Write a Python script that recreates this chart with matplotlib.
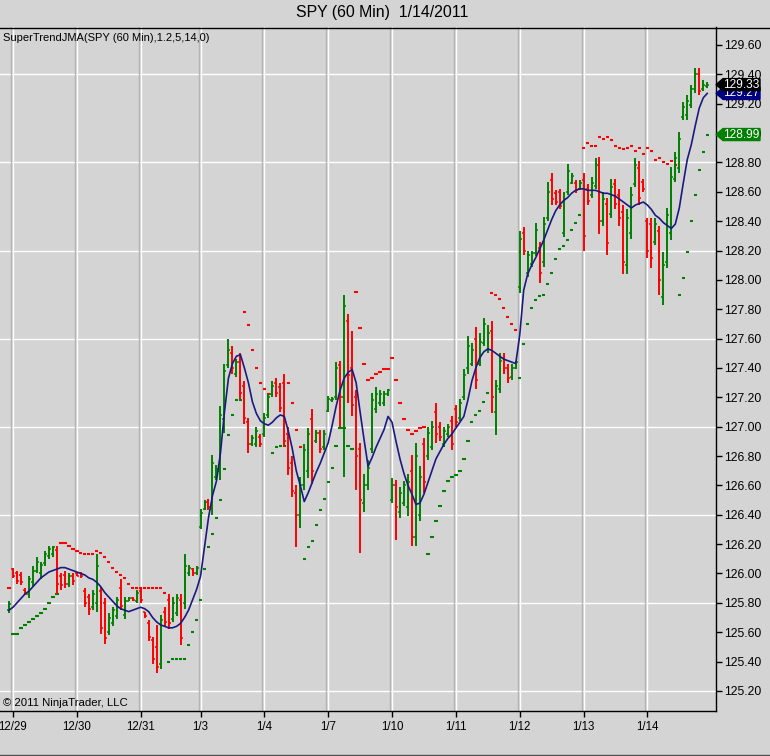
import matplotlib
matplotlib.use('Agg')
import matplotlib.pyplot as plt
from matplotlib.patches import Polygon
from matplotlib.lines import Line2D
import numpy as np

plt.rcParams['font.family'] = ['Liberation Sans', 'DejaVu Sans']

# ---------------- data ----------------
bar_open = [
    125.75, 126.03, 126.00, 125.99, 125.89, 125.86, 125.94, 126.02, 126.00, 126.07,
    126.12, 126.13, 126.16, 125.98, 125.99, 125.93, 125.98, 126.00, 126.00, 125.88,
    125.84, 125.77, 125.80, 125.88, 125.80, 125.60, 125.66, 125.71, 125.90, 125.72,
    125.81, 125.83, 125.81, 125.88, 125.74, 125.66, 125.55, 125.50, 125.38, 125.74,
    125.82, 125.69, 125.73, 125.82, 125.80, 126.00, 126.03, 126.00, 126.32, 126.44,
    126.49, 126.44, 126.66, 126.70, 127.05, 127.42, 127.50, 127.36, 127.44, 127.28,
    127.03, 126.88, 126.88, 126.93, 126.95, 127.08, 127.22, 127.30, 127.27, 127.30,
    126.95, 126.75, 126.55, 126.40, 126.60, 126.70, 127.05, 126.90, 126.96, 126.86,
    127.11, 127.18, 127.20, 127.42, 127.20, 127.72, 127.40, 127.20, 126.85, 126.48,
    126.60, 126.85, 127.12, 127.16, 127.16, 127.22, 126.50, 126.60, 126.42, 126.48,
    126.45, 126.70, 126.25, 126.40, 126.88, 126.80, 126.86, 127.10, 127.00, 126.88,
    126.95, 127.04, 127.12, 127.06, 127.20, 127.40, 127.43, 127.60, 127.43, 127.57,
    127.52, 127.65, 127.10, 127.26, 127.47, 127.40, 127.34, 127.40, 127.95, 128.32,
    128.05, 128.11, 128.18, 128.22, 128.12, 128.42, 128.68, 128.59, 128.60, 128.32,
    128.60, 128.66, 128.66, 128.62, 128.68, 128.62, 128.58, 128.64, 128.78, 128.40,
    128.52, 128.45, 128.65, 128.58, 128.46, 128.10, 128.32, 128.65, 128.76, 128.67,
    128.40, 128.38, 128.26, 128.33, 127.88, 128.12, 128.32, 128.69, 128.76, 129.11,
    129.12, 129.19, 129.30, 129.40, 129.30, 129.32]
bar_high = [
    125.81, 126.04, 126.02, 126.01, 125.90, 125.98, 126.05, 126.11, 126.08, 126.15,
    126.19, 126.19, 126.19, 126.00, 126.02, 126.00, 126.00, 126.00, 126.01, 125.90,
    125.86, 125.89, 126.13, 125.91, 125.83, 125.73, 125.77, 125.84, 125.96, 125.84,
    125.84, 125.84, 125.89, 125.90, 125.74, 125.68, 125.57, 125.65, 125.72, 125.77,
    125.86, 125.84, 125.86, 125.86, 126.13, 126.06, 126.04, 126.05, 126.44, 126.50,
    126.51, 126.81, 126.74, 127.14, 127.43, 127.60, 127.55, 127.46, 127.50, 127.31,
    127.06, 126.94, 127.00, 126.95, 127.09, 127.22, 127.31, 127.33, 127.30, 127.36,
    127.00, 126.80, 126.60, 126.66, 126.88, 126.99, 127.12, 126.98, 126.98, 126.98,
    127.21, 127.20, 127.44, 127.45, 127.90, 127.77, 127.65, 127.25, 126.89, 126.68,
    126.77, 127.23, 127.27, 127.25, 127.24, 127.26, 126.65, 126.64, 126.59, 126.63,
    126.68, 126.81, 126.89, 126.73, 126.92, 127.00, 127.04, 127.16, 127.03, 127.00,
    127.02, 127.07, 127.15, 127.19, 127.39, 127.62, 127.57, 127.68, 127.64, 127.74,
    127.69, 127.72, 127.32, 127.50, 127.50, 127.43, 127.43, 127.45, 128.33, 128.36,
    128.20, 128.20, 128.39, 128.26, 128.43, 128.67, 128.73, 128.61, 128.62, 128.60,
    128.79, 128.73, 128.68, 128.68, 128.73, 128.65, 128.70, 128.83, 128.84, 128.60,
    128.56, 128.69, 128.69, 128.62, 128.51, 128.48, 128.63, 128.83, 128.81, 128.69,
    128.42, 128.42, 128.42, 128.37, 128.19, 128.49, 128.77, 128.87, 129.01, 129.21,
    129.26, 129.33, 129.44, 129.44, 129.36, 129.35]
bar_low = [
    125.73, 125.97, 125.93, 125.92, 125.85, 125.83, 125.91, 126.00, 125.96, 126.05,
    126.10, 126.11, 125.86, 125.89, 125.90, 125.91, 125.92, 125.98, 125.97, 125.77,
    125.72, 125.75, 125.74, 125.59, 125.52, 125.58, 125.64, 125.69, 125.75, 125.69,
    125.81, 125.81, 125.80, 125.80, 125.70, 125.54, 125.38, 125.32, 125.35, 125.64,
    125.62, 125.67, 125.71, 125.51, 125.76, 125.98, 125.98, 125.99, 126.30, 126.43,
    126.43, 126.40, 126.64, 126.64, 126.96, 127.40, 127.36, 127.34, 127.19, 127.02,
    126.82, 126.87, 126.86, 126.86, 126.93, 127.06, 127.20, 127.20, 127.10, 126.86,
    126.67, 126.52, 126.18, 126.31, 126.57, 126.65, 126.61, 126.89, 126.82, 126.84,
    127.10, 127.17, 127.18, 127.00, 126.66, 127.16, 127.07, 126.57, 126.14, 126.42,
    126.57, 126.82, 127.09, 127.14, 127.14, 127.21, 126.48, 126.23, 126.38, 126.46,
    126.39, 126.19, 126.19, 126.36, 126.55, 126.77, 126.84, 126.89, 126.90, 126.86,
    126.93, 126.84, 127.00, 127.04, 127.18, 127.36, 127.41, 127.26, 127.41, 127.55,
    127.50, 127.09, 126.94, 127.23, 127.36, 127.30, 127.32, 127.39, 127.91, 128.17,
    128.02, 128.09, 128.16, 127.98, 128.09, 128.40, 128.51, 128.51, 128.48, 128.29,
    128.58, 128.65, 128.59, 128.61, 128.20, 128.51, 128.56, 128.62, 128.31, 128.37,
    128.17, 128.42, 128.48, 128.37, 128.04, 128.04, 128.28, 128.63, 128.51, 128.60,
    128.15, 128.08, 128.24, 127.90, 127.83, 128.08, 128.27, 128.67, 128.73, 129.09,
    129.09, 129.17, 129.27, 129.26, 129.29, 129.31]
bar_close = [
    125.79, 125.98, 125.95, 125.94, 125.86, 125.96, 126.02, 126.08, 126.06, 126.13,
    126.17, 126.18, 125.93, 125.92, 125.93, 125.98, 125.95, 125.98, 125.98, 125.80,
    125.76, 125.86, 126.05, 125.63, 125.56, 125.70, 125.75, 125.82, 125.78, 125.81,
    125.83, 125.82, 125.87, 125.82, 125.71, 125.57, 125.42, 125.36, 125.68, 125.67,
    125.66, 125.80, 125.83, 125.56, 126.05, 126.04, 126.00, 126.04, 126.41, 126.48,
    126.45, 126.75, 126.71, 127.08, 127.38, 127.52, 127.40, 127.44, 127.23, 127.06,
    126.88, 126.92, 126.97, 126.88, 127.06, 127.20, 127.28, 127.23, 127.13, 126.90,
    126.72, 126.56, 126.40, 126.60, 126.84, 126.95, 126.70, 126.96, 126.85, 126.95,
    127.19, 127.19, 127.40, 127.20, 127.82, 127.35, 127.15, 126.80, 126.50, 126.60,
    126.72, 127.18, 127.22, 127.22, 127.22, 127.25, 126.60, 126.45, 126.55, 126.60,
    126.62, 126.25, 126.80, 126.66, 126.62, 126.96, 127.00, 126.95, 126.93, 126.97,
    127.00, 126.88, 127.03, 127.16, 127.35, 127.55, 127.52, 127.32, 127.58, 127.70,
    127.64, 127.20, 127.28, 127.45, 127.40, 127.33, 127.40, 127.44, 128.28, 128.20,
    128.17, 128.18, 128.34, 128.05, 128.38, 128.60, 128.55, 128.53, 128.50, 128.55,
    128.74, 128.71, 128.61, 128.66, 128.30, 128.54, 128.66, 128.78, 128.40, 128.55,
    128.25, 128.63, 128.52, 128.42, 128.12, 128.42, 128.58, 128.78, 128.56, 128.62,
    128.20, 128.15, 128.38, 128.00, 128.10, 128.44, 128.70, 128.83, 128.96, 129.18,
    129.22, 129.30, 129.40, 129.29, 129.33, 129.33]

# SuperTrend level per bar and its direction (u = up / green, d = down / red)
st_value = [
    125.90, 125.59, 125.59, 125.63, 125.65, 125.67, 125.69, 125.71, 125.73, 125.76,
    125.80, 125.84, 125.86, 126.21, 126.21, 126.19, 126.17, 126.15, 126.14, 126.13,
    126.13, 126.13, 126.15, 126.14, 126.11, 126.08, 126.04, 126.01, 125.99, 125.97,
    125.93, 125.90, 125.90, 125.90, 125.90, 125.90, 125.90, 125.90, 125.90, 125.87,
    125.40, 125.42, 125.42, 125.42, 125.42, 125.51, 125.60, 125.68, 125.82, 126.03,
    126.18, 126.27, 126.38, 126.50, 126.71, 126.94, 127.08, 127.18, 127.18, 127.78,
    127.69, 127.52, 127.40, 127.30, 127.26, 127.22, 126.82, 126.86, 126.87, 126.87,
    127.30, 127.16, 126.98, 126.86, 126.10, 126.18, 126.22, 126.33, 126.43, 126.51,
    126.62, 126.72, 126.87, 126.99, 126.99, 126.87, 126.85, 127.92, 127.67, 127.43,
    127.32, 127.33, 127.36, 127.37, 127.39, 127.39, 127.47, 127.32, 127.16, 127.05,
    126.98, 126.95, 126.97, 126.99, 127.00, 126.13, 126.25, 126.36, 126.46, 126.56,
    126.63, 126.66, 126.67, 126.70, 126.78, 126.90, 127.03, 127.08, 127.11, 127.17,
    127.23, 127.91, 127.90, 127.87, 127.81, 127.75, 127.70, 127.66, 127.33, 127.56,
    127.70, 127.81, 127.86, 127.89, 127.90, 127.97, 128.05, 128.14, 128.21, 128.23,
    128.27, 128.34, 128.39, 128.44, 128.90, 128.93, 128.91, 128.91, 128.97, 128.96,
    128.97, 128.95, 128.91, 128.90, 128.89, 128.90, 128.91, 128.88, 128.90, 128.86,
    128.90, 128.88, 128.82, 128.83, 128.80, 128.79, 128.81, 128.78, 127.90, 128.01,
    128.19, 128.40, 128.58, 128.75, 128.87, 128.99]
st_dir = ("duuuuuuuuu uuuddddddd dddddddddd dddddddddd uuuuuuuuuu "
          "uuuuuuuuud dddddduuuu dddduuuuuu uuuuuuuddd dddddddddd "
          "ddddduuuuu uuuuuuuuuu uddddddduu uuuuuuuuuu uuuudddddd "
          "dddddddddd dddddddduu uuuuuu").replace(" ", "")

# JMA smoothing line
jma = [
    125.75, 125.77, 125.80, 125.83, 125.86, 125.88, 125.91, 125.94, 125.97, 125.99,
    126.01, 126.02, 126.03, 126.04, 126.04, 126.03, 126.02, 126.01, 126.00, 125.99,
    125.97, 125.96, 125.94, 125.91, 125.87, 125.84, 125.81, 125.78, 125.76, 125.75,
    125.74, 125.75, 125.76, 125.77, 125.76, 125.74, 125.70, 125.67, 125.65, 125.64,
    125.63, 125.63, 125.64, 125.66, 125.70, 125.75, 125.82, 125.89, 125.98, 126.18,
    126.38, 126.53, 126.63, 126.82, 127.10, 127.33, 127.43, 127.48, 127.49, 127.40,
    127.30, 127.17, 127.09, 127.04, 127.02, 127.01, 127.03, 127.06, 127.08, 127.07,
    126.97, 126.85, 126.70, 126.60, 126.49, 126.55, 126.62, 126.69, 126.75, 126.82,
    126.89, 127.01, 127.14, 127.25, 127.33, 127.37, 127.39, 127.30, 127.10, 126.91,
    126.73, 126.79, 126.86, 126.92, 126.98, 127.07, 127.03, 126.90, 126.78, 126.68,
    126.60, 126.54, 126.47, 126.48, 126.54, 126.62, 126.70, 126.78, 126.83, 126.88,
    126.92, 126.95, 126.99, 127.03, 127.07, 127.18, 127.31, 127.40, 127.47, 127.51,
    127.53, 127.52, 127.50, 127.48, 127.46, 127.45, 127.44, 127.43, 127.62, 127.93,
    128.04, 128.10, 128.15, 128.21, 128.27, 128.34, 128.41, 128.47, 128.51, 128.54,
    128.56, 128.59, 128.61, 128.62, 128.62, 128.61, 128.61, 128.61, 128.60, 128.59,
    128.59, 128.58, 128.57, 128.55, 128.53, 128.51, 128.49, 128.51, 128.52, 128.53,
    128.51, 128.48, 128.44, 128.42, 128.39, 128.37, 128.35, 128.38, 128.49, 128.66,
    128.82, 128.92, 129.05, 129.17, 129.24, 129.27]

date_labels = ['12/29', '12/30', '12/31', '1/3', '1/4', '1/7', '1/10',
               '1/11', '1/12', '1/13', '1/14']
date_bar_index = [1, 17, 33, 48, 64, 80, 96, 112, 128, 144, 160]
price_ticks = [125.20, 125.40, 125.60, 125.80, 126.00, 126.20, 126.40, 126.60,
               126.80, 127.00, 127.20, 127.40, 127.60, 127.80, 128.00, 128.20,
               128.40, 128.60, 128.80, 129.00, 129.20, 129.40, 129.60]
grid_prices = [125.20, 125.80, 126.40, 127.00, 127.60, 128.20, 128.80, 129.40]

# ---------------- styling ----------------
BG = '#d4d4d4'
GREEN = '#008000'
RED = '#ff0000'
NAVY = '#1a1a80'
W, H = 770, 756

fig = plt.figure(figsize=(W / 100, H / 100), dpi=100, facecolor=BG)
ax = fig.add_axes([0, 1 - 711 / H, 716 / W, (711 - 27) / H])
ax.set_facecolor(BG)

n = len(bar_close)
x = np.arange(n)
o = np.array(bar_open)
c = np.array(bar_close)
cols = np.where(c >= o, GREEN, RED)

# grid
for p in grid_prices:
    ax.axhline(p, color='white', lw=1.0, zorder=1)
for xi in date_bar_index:
    ax.axvline(xi - 0.5, color='#b4b4b4', lw=1.0, zorder=1)
    ax.axvline(xi, color='white', lw=1.0, zorder=1)

# SuperTrend dashes
st_cols = [GREEN if d == 'u' else RED for d in st_dir]
ax.hlines(st_value, x - 0.42, x + 0.42, colors=st_cols, lw=1.5, zorder=2)

# OHLC bars
ax.vlines(x, bar_low, bar_high, colors=cols, lw=1.4, zorder=3)
ax.hlines(bar_open, x - 0.5, x, colors=cols, lw=1.1, zorder=3)
ax.hlines(bar_close, x, x + 0.5, colors=cols, lw=1.1, zorder=3)

# JMA line
ax.plot(x, jma, color=NAVY, lw=1.2, zorder=4)

ax.set_xlim(-2.256, 177.2)
ax.set_ylim(125.0632, 129.7226)

# axes / ticks
ax.spines['left'].set_visible(False)
ax.spines['top'].set_visible(False)
for s in ['bottom', 'right']:
    ax.spines[s].set_color('black')
    ax.spines[s].set_linewidth(1.0)

ax.yaxis.tick_right()
ax.set_yticks(price_ticks)
ax.set_yticklabels([f'{p:.2f}' for p in price_ticks])
ax.tick_params(axis='y', direction='out', length=4, width=1, pad=2,
               labelsize=8.8, colors='black')
ax.set_xticks(date_bar_index)
ax.set_xticklabels(date_labels)
ax.tick_params(axis='x', direction='out', length=4, width=1, pad=3,
               labelsize=8.3, colors='black')

# full-width top rule and bottom frame line
fig.add_artist(Line2D([0, 1], [1 - 27.5 / H, 1 - 27.5 / H], color='black',
                      lw=1.0, transform=fig.transFigure))
fig.add_artist(Line2D([0, 1], [0.6 / H, 0.6 / H], color='#505050',
                      lw=1.0, transform=fig.transFigure))

# right-side value markers
def marker(value, face, zo):
    tip = 1.0
    body = 1.0 + 7 / 716
    end = 1.0 + 44 / 716
    hh = 6 / 146.8
    poly = Polygon([(tip, value), (body, value + hh), (end, value + hh),
                    (end, value - hh), (body, value - hh)],
                   closed=True, facecolor=face, edgecolor=face,
                   transform=ax.get_yaxis_transform(), clip_on=False, zorder=zo)
    ax.add_patch(poly)
    ax.text(body + 0.3 / 716, value, f'{value:.2f}', color='white', fontsize=8.6,
            ha='left', va='center', transform=ax.get_yaxis_transform(),
            clip_on=False, zorder=zo + 0.1)

marker(jma[-1], '#000080', 10)
marker(bar_close[-1], 'black', 11)
marker(st_value[-1], GREEN, 10)

# texts
fig.text(382 / W, 1 - 13 / H, 'SPY (60 Min)  1/14/2011', ha='center',
         va='center', fontsize=11.4, color='black')
fig.text(3 / W, 1 - 38 / H, 'SuperTrendJMA(SPY (60 Min),1.2,5,14,0)',
         ha='left', va='center', fontsize=8, color='black')
fig.text(3 / W, 1 - 703 / H, '\u00a9 2011 NinjaTrader, LLC',
         ha='left', va='center', fontsize=8.2, color='black')

fig.savefig('out.png', dpi=100, facecolor=BG)
